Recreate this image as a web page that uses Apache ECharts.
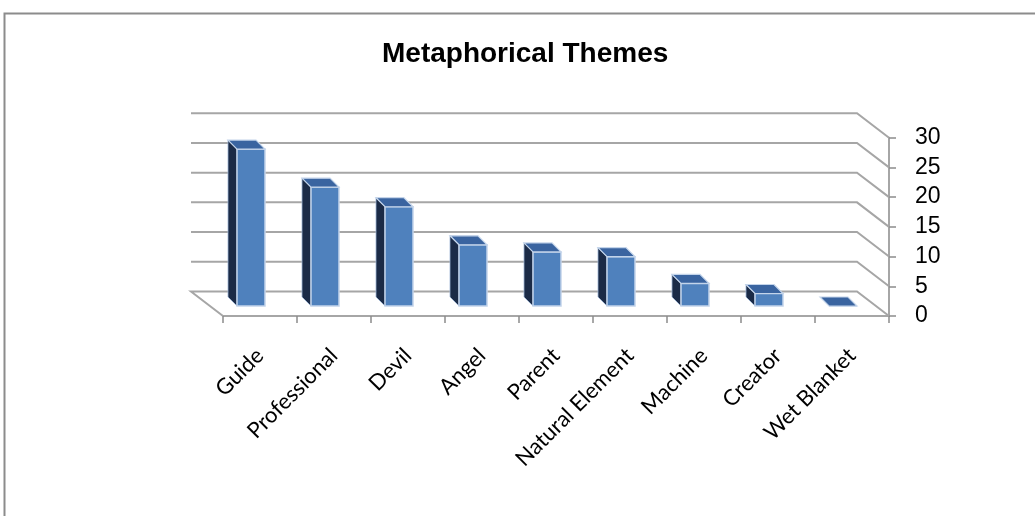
<!DOCTYPE html>
<html>
<head>
<meta charset="utf-8">
<title>Metaphorical Themes</title>
<script src="https://cdn.jsdelivr.net/npm/echarts@6/dist/echarts.min.js"></script>
<style>
	html, body { margin: 0; padding: 0; background: #fff; }
	#chart { width: 1035px; height: 516px; }
</style>
</head>
<body>
<div id="chart"></div>
<script>
	// data
	var categories = ['Guide', 'Professional', 'Devil', 'Angel', 'Parent', 'Natural Element', 'Machine', 'Creator', 'Wet Blanket'];
	var values = [26.4, 20, 16.7, 10.3, 9.1, 8.3, 3.8, 2.1, 0];
	var yTicks = [0, 5, 10, 15, 20, 25, 30];

	// 3d look: back wall offset and bar depth offsets (px)
	var WALL_DX = -32, WALL_DY = -24.5;
	var BAR_DY = -10, CAP = 9;

	var myChart = echarts.init(document.getElementById('chart'), null, {renderer: 'canvas'});

	var renderWall = function(params, api){
		var v = api.value(1);
		var band = api.size([1, 0])[0];
		var p0 = api.coord([0, v]);
		var p8 = api.coord([categories.length - 1, v]);
		var xl = p0[0] - band / 2, xr = p8[0] + band / 2, y = p0[1];
		var pts = [[xl + WALL_DX, y + WALL_DY], [xr + WALL_DX, y + WALL_DY], [xr, y]];
		if (v === 0) {
			pts.unshift([xl, y]);
		}
		return {
			type: 'polyline',
			shape: {points: pts},
			style: {stroke: '#a6a6a6', lineWidth: 2, fill: null}
		};
	};

	var renderBar = function(params, api){
		var i = api.value(0);
		var c0 = api.coord([i, 0]);
		var c1 = api.coord([i, api.value(1)]);
		var cx = c0[0];
		var top = c1[1] + BAR_DY, bottom = c0[1] + BAR_DY;
		var l = cx - 23, r = cx + 5;
		return {
			type: 'group',
			children: [
				{
					type: 'polygon',
					shape: {points: [[l, top], [l - CAP, top - CAP], [l - CAP, bottom - CAP], [l, bottom]]},
					style: {fill: '#1b2b47', stroke: '#9fb6d6', lineWidth: 0.8}
				},
				{
					type: 'rect',
					shape: {x: l, y: top, width: r - l, height: bottom - top},
					style: {fill: '#4f81bd', stroke: '#c3d4ea', lineWidth: 1.5}
				},
				{
					type: 'polygon',
					shape: {points: [[l, top], [r, top], [r - CAP, top - CAP], [l - CAP, top - CAP]]},
					style: {fill: '#3a64a0', stroke: '#c3d4ea', lineWidth: 1.2}
				}
			]
		};
	};

	var option = {
		animation: false,
		title: {
			text: 'Metaphorical Themes',
			left: 382,
			top: 40,
			padding: 0,
			textStyle: {fontFamily: 'Liberation Sans', fontWeight: 'bold', fontSize: 28, color: '#000'}
		},
		graphic: [{
			type: 'rect',
			shape: {x: 4.5, y: 13.5, width: 1100, height: 600},
			style: {fill: null, stroke: '#8c8c8c', lineWidth: 2},
			silent: true
		}],
		grid: {left: 223, right: 146, top: 137.7, bottom: 200},
		xAxis: {
			type: 'category',
			data: categories,
			boundaryGap: true,
			axisLine: {lineStyle: {color: '#a6a6a6', width: 2}},
			axisTick: {show: true, length: 7, lineStyle: {color: '#8c8c8c', width: 1.5}},
			axisLabel: {
				interval: 0,
				rotate: 45,
				margin: 36,
				fontFamily: 'Lato',
				fontSize: 22,
				color: '#000'
			},
			splitLine: {show: false}
		},
		yAxis: {
			type: 'value',
			position: 'right',
			min: 0,
			max: 30,
			interval: 5,
			axisLine: {show: true, lineStyle: {color: '#a6a6a6', width: 2}},
			axisTick: {show: true, length: 7, lineStyle: {color: '#8c8c8c', width: 1.5}},
			axisLabel: {margin: 26, fontFamily: 'Liberation Sans', fontSize: 23, color: '#000'},
			splitLine: {show: false}
		},
		series: [
			{
				type: 'custom',
				name: 'wall',
				silent: true,
				clip: false,
				z: 1,
				renderItem: renderWall,
				encode: {x: 0, y: 1},
				data: yTicks.map(function(v){ return [0, v]; })
			},
			{
				type: 'custom',
				name: 'Metaphorical Themes',
				clip: false,
				z: 3,
				renderItem: renderBar,
				encode: {x: 0, y: 1},
				data: values.map(function(v, i){ return [i, v]; })
			}
		]
	};
	myChart.setOption(option);
</script>
</body>
</html>
